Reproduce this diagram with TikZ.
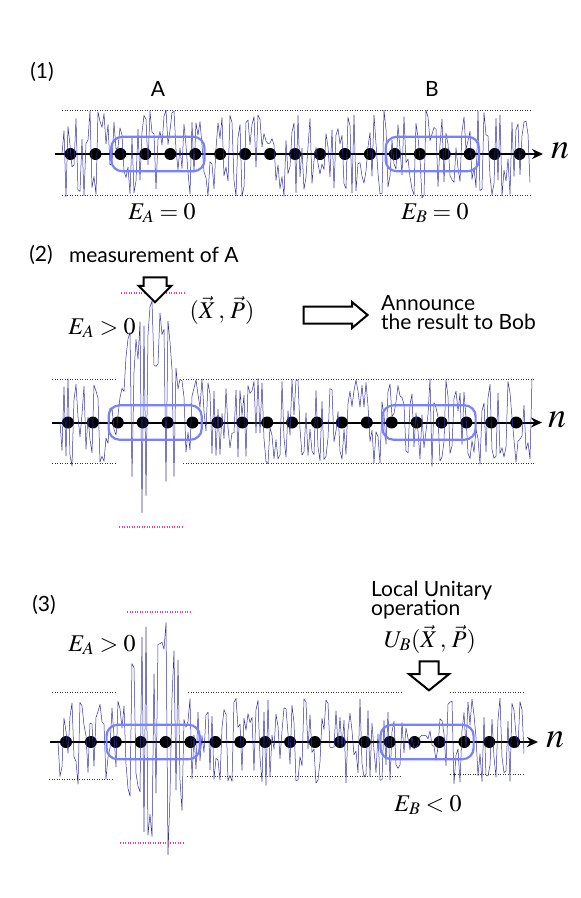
\documentclass[tikz,border=0pt]{standalone}
\usepackage{mathptmx}
\usepackage[no-math]{fontspec}
\newfontfamily\labelfont{Lato}
\usetikzlibrary{arrows.meta,shapes.arrows,fit,positioning}

\definecolor{noiseblue}{RGB}{50,50,165}
\definecolor{boxblue}{RGB}{120,130,255}
\definecolor{peakpink}{RGB}{240,60,150}

\tikzset{
  site/.style={circle,fill=black,inner sep=0pt,minimum size=12pt},
  chainaxis/.style={line width=2pt,-{Stealth[length=11pt,width=10pt]}},
  noise/.style={noiseblue,line width=0.5pt,line join=round},
  regionbox/.style={draw=boxblue,line width=2.2pt,rounded corners=11pt,inner xsep=3pt,inner ysep=11pt},
  limitline/.style={black!80,line width=0.8pt,dash pattern=on 1pt off 1.5pt},
  peakline/.style={peakpink,line width=1.2pt,dash pattern=on 1.2pt off 1.3pt},
  sanslabel/.style={font=\labelfont\fontsize{21}{19}\selectfont,inner sep=0pt},
  mathlabel/.style={font=\fontsize{24}{24}\selectfont,inner sep=0pt},
  axislabel/.style={font=\fontsize{36}{36}\selectfont,inner sep=0pt},
  hollowarrow/.style={single arrow,draw,line width=2pt,inner xsep=0pt,fill=white},
}

\begin{document}
\begin{tikzpicture}[x=1pt,y=-1pt]
    \useasboundingbox[fill=white] (0,0) rectangle (581,898);

    % (1) chain before the measurement
    \node[sanslabel] (lab1) at (42,72) {(1)};
    \node[sanslabel] (regA) at (158,89) {A};
    \node[sanslabel] (regB) at (432,89) {B};
    \draw[limitline] (62,110) -- (530,110);
    \draw[limitline] (62,195) -- (530,195);
    \coordinate (ax1s) at (55,154);
    \coordinate (ax1e) at (543,154);
    \draw[chainaxis] (ax1s) -- (ax1e);
    \foreach \i in {0,...,18} \node[site] (p1-\i) at ({70.5+24.95*\i},154) {};
    \pgfmathsetseed{7}
    \draw[noise] (62,154) \foreach \x in {64,66,...,530} { -- (\x,{154+44*ifthenelse(rnd<0.5,-1,1)*(0.1+0.9*rnd)}) };
    \node[regionbox,fit=(p1-2)(p1-5)] (boxA1) {};
    \node[regionbox,fit=(p1-13)(p1-16)] (boxB1) {};
    \node[axislabel] (n1) at (560,151) {$n$};
    \node[mathlabel] (EA1) at (162,213) {$E_A = 0$};
    \node[mathlabel] (EB1) at (435,213) {$E_B = 0$};

    % (2) measurement of A
    \node[sanslabel] (lab2) at (41,255) {(2)};
    \node[sanslabel,right=16pt of lab2] (meas) {measurement of A};
    \coordinate (ax2s) at (52,422.5);
    \coordinate (ax2e) at (542,422.5);
    \draw[chainaxis] (ax2s) -- (ax2e);
    \foreach \i in {0,...,18} \node[site] (p2-\i) at ({68+24.9*\i},422.5) {};
    \pgfmathsetseed{23}
    \draw[noise] (60,422.5) \foreach \x in {62,64,...,532} {
        \pgfextra{\pgfmathsetmacro\w{1-min(1,abs(\x-152)/34)^2}}
        -- (\x,{422.5+44*(1+1.95*\w)*ifthenelse(rnd<0.5,-1,1)*(0.1+0.25*\w+(0.9-0.25*\w)*rnd)}) };
    \draw[limitline] (52,379.5) -- (117,379.5);
    \draw[limitline] (183,379.5) -- (535,379.5);
    \draw[limitline] (52,463) -- (117,463);
    \draw[limitline] (183,463) -- (535,463);
    \draw[peakline] (121,293) -- (186,293);
    \draw[peakline] (119,527) -- (183,527);
    \node[regionbox,fit=(p2-2)(p2-5)] (boxA2) {};
    \node[regionbox,fit=(p2-13)(p2-16)] (boxB2) {};
    \node[axislabel] (n2) at (557,420) {$n$};
    \node[hollowarrow,rotate=-90,minimum height=25pt,inner ysep=10.5pt,single arrow head extend=5pt] (measarrow) at (155,284) {};
    \node[mathlabel] (XP) at (222,310) {$(\vec X\,,\,\vec P)$};
    \node[mathlabel] (EA2) at (102,328) {$E_A > 0$};
    \node[hollowarrow,minimum height=64pt,inner ysep=7.5pt,single arrow head extend=4.5pt,single arrow tip angle=80] (sendarrow) at (330.5,315) {};
    \node[sanslabel,anchor=west,align=left] (announce) at (381,313) {Announce\\the result to Bob};

    % (3) local operation on B
    \node[sanslabel] (lab3) at (44,605) {(3)};
    \coordinate (ax3s) at (50,742);
    \coordinate (ax3e) at (538,742);
    \draw[chainaxis] (ax3s) -- (ax3e);
    \foreach \i in {0,...,18} \node[site] (p3-\i) at ({66+24.9*\i},742) {};
    \pgfmathsetseed{41}
    \draw[noise] (58,742) \foreach \x in {60,62,...,524} {
        \pgfextra{\pgfmathsetmacro\w{1-min(1,abs(\x-157)/34)^2}\pgfmathsetmacro\q{1-0.85*(1-min(1,abs(\x-420)/28)^2)}}
        -- (\x,{742+44*\q*(1+1.95*\w)*ifthenelse(rnd<0.5,-1,1)*(0.1+0.25*\w+(0.9-0.25*\w)*rnd)}) };
    \draw[limitline] (52,692.5) -- (117,692.5);
    \draw[limitline] (188,692.5) -- (402,692.5);
    \draw[limitline] (450,692.5) -- (523,692.5);
    \draw[limitline] (49,779) -- (114,779);
    \draw[limitline] (187,776) -- (401,776);
    \draw[limitline] (450,774) -- (524,774);
    \draw[peakline] (127,612) -- (191,612);
    \draw[peakline] (120,843) -- (185,843);
    \node[regionbox,fit=(p3-2)(p3-5)] (boxA3) {};
    \node[regionbox,fit=(p3-13)(p3-16)] (boxB3) {};
    \node[axislabel] (n3) at (555,740) {$n$};
    \node[mathlabel] (EA3) at (102,645) {$E_A > 0$};
    \node[sanslabel,anchor=west,align=left] (local) at (371,600) {Local Unitary\\operation};
    \node[mathlabel] (UB) at (430,639) {$U_B(\vec X\,,\,\vec P)$};
    \node[hollowarrow,rotate=-90,minimum height=29pt,inner ysep=8.5pt,single arrow head extend=10.5pt,single arrow tip angle=102] (oparrow) at (429,672) {};
    \node[mathlabel] (EB3) at (428,805) {$E_B < 0$};
\end{tikzpicture}
\end{document}
